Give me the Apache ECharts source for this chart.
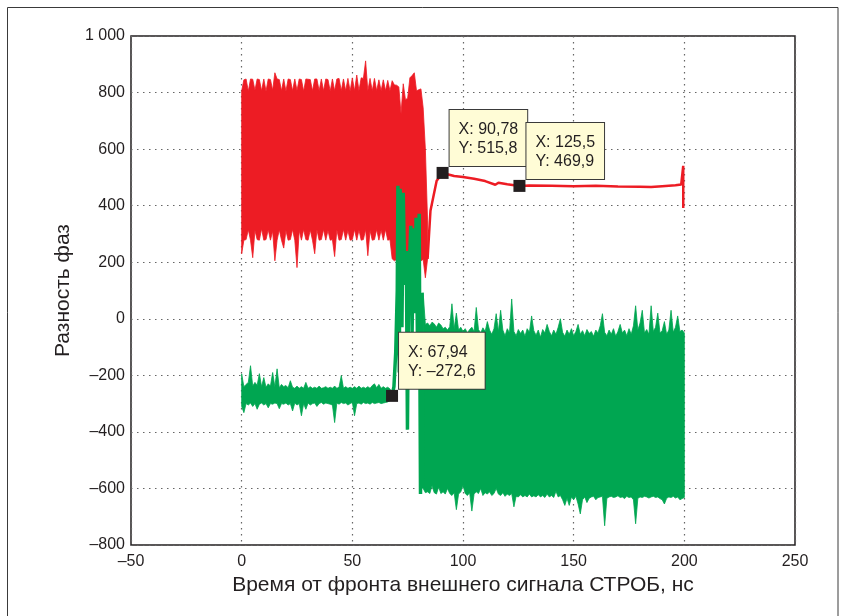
<!DOCTYPE html>
<html>
<head>
<meta charset="utf-8">
<script src="https://cdn.jsdelivr.net/npm/echarts@6/dist/echarts.min.js"></script>
<style>
html,body{margin:0;padding:0;background:#fff;}
#c{width:845px;height:616px;}
</style>
</head>
<body>
<div id="c"></div>
<script>
// ---- axis ticks ----
const xTicks = [-50, 0, 50, 100, 150, 200, 250];
const yTicks = [-800, -600, -400, -200, 0, 200, 400, 600, 800, 1000];

// ---- red trace: dense burst (sampled every 1 ns from 0 ns), upper / lower envelope ----
const redBurstStart = 0;
const redBurstStep = 1;
const redBurstHigh = [
  806,845,848,805,848,847,808,848,846,806,
  848,805,848,846,808,870,848,846,806,848,
  805,848,846,806,848,807,848,846,805,848,
  847,846,806,848,848,806,848,806,848,846,
  805,848,806,848,850,806,848,806,850,805,
  852,806,862,806,852,850,912,806,850,806,
  850,806,845,806,845,806,843,806,842,827,
  826,820,725,831,775,780,852,860,870,806,
  810,813,746,600,346
];
const redBurstLow = [
  230,278,280,315,278,216,312,280,278,318,
  278,280,315,278,310,205,278,315,278,250,
  312,278,280,316,278,181,312,278,316,280,
  278,314,278,230,315,278,280,316,278,312,
  278,280,220,315,278,280,316,278,312,278,
  280,316,278,314,278,280,316,223,312,278,
  280,316,278,314,278,316,278,280,212,205,
  210,205,208,205,210,205,208,205,210,205,
  207,205,210,145,212
];
// ---- red trace: settled tail ----
const redTailX = [84, 85.3, 88.1, 90.78, 92.5, 96, 100, 105, 110, 114.6, 116, 120, 125.5, 130, 140, 150, 160, 170, 180, 185, 190, 196, 198.6, 199.5, 199.5];
const redTailY = [212, 382, 488, 515.8, 512, 505, 501, 495, 487, 474, 481, 476, 469.9, 471, 470, 469, 470, 468, 467, 466, 469, 472, 475, 541, 392];

// ---- green trace: noisy start (every 1 ns from 0 ns) ----
const greenNoiseStart = 0;
const greenNoiseStep = 1;
const greenNoiseHigh = [
  -195,-240,-232,-225,-166,-238,-225,-235,-194,-240,
  -208,-242,-230,-238,-190,-240,-177,-244,-232,-240,
  -236,-244,-219,-242,-246,-238,-246,-240,-246,-225,
  -246,-240,-246,-242,-246,-238,-246,-244,-240,-246,
  -242,-246,-238,-246,-242,-201,-246,-240,-246,-242,
  -246,-240,-246,-238,-246,-242,-246,-240,-246,-236,
  -230,-244,-232,-246,-240,-246,-242,-248,-265
];
const greenNoiseLow = [
  -310,-332,-300,-305,-298,-310,-300,-320,-302,-298,
  -305,-300,-315,-300,-302,-298,-300,-318,-300,-302,
  -298,-305,-300,-326,-298,-305,-300,-343,-300,-320,
  -298,-305,-300,-298,-310,-300,-296,-302,-298,-300,
  -302,-305,-367,-298,-302,-296,-300,-298,-305,-300,
  -296,-343,-300,-298,-302,-296,-300,-298,-302,-296,
  -300,-298,-296,-300,-298,-296,-294,-290,-280
];
// ---- green trace: jump ----
const greenJumpX = [67.94, 68.8, 69.6, 70.3, 70.6, 71.2, 71.6, 72.4, 73.0, 73.7, 74.4, 74.9, 75.4, 76.4, 77.0, 77.6, 78.2, 78.8, 79.4, 80.2, 80.8, 81.4, 82.0];
const greenJumpY = [-272.6, -240, -120, 100, 470, -190, 460, -30, 446, 120, 240, -392, 100, 329, -50, 320, 20, 357, -60, 371, -620, 92, -600];
// ---- green trace: dense burst (every 1 ns from 82 ns) ----
const greenBurstStart = 82;
const greenBurstStep = 1;
const greenBurstHigh = [
  92,-20,-15,-25,-12,-18,-30,-15,-22,-35,
  -30,-40,-28,53,-35,20,-40,-30,-45,-35,
  -50,-38,-30,-45,40,-38,-50,-32,-45,-10,
  -40,-55,-35,18,-45,30,-40,-60,-35,-50,
  70,-45,-60,-38,-52,-40,-62,-35,-48,10,
  -42,-58,-40,-65,-38,-50,-20,-45,-60,-40,
  -55,-30,0,-48,-62,-40,-55,-35,-60,-45,
  -20,-55,-42,-60,-38,-52,-45,-62,-40,-50,
  -25,18,-48,-60,-40,-55,-35,-62,-45,-20,
  -50,-40,-60,-35,-55,-25,46,-40,-15,30,
  -50,-38,-55,46,-45,-30,20,-50,-42,-10,
  -55,-40,30,-48,-30,10,-45,-40,-50
];
const greenBurstLow = [
  -600,-615,-612,-618,-590,-615,-620,-595,-618,-612,
  -620,-600,-618,-625,-615,-675,-620,-612,-590,-618,
  -625,-615,-680,-620,-612,-618,-600,-625,-615,-620,
  -612,-625,-618,-600,-620,-625,-615,-628,-620,-625,
  -618,-665,-628,-630,-622,-630,-625,-630,-620,-630,
  -626,-630,-622,-630,-625,-632,-620,-630,-625,-632,
  -610,-630,-625,-640,-660,-635,-660,-630,-640,-628,
  -655,-690,-640,-630,-650,-635,-630,-628,-640,-632,
  -630,-628,-732,-635,-630,-628,-632,-630,-626,-632,
  -630,-636,-628,-632,-630,-640,-725,-635,-630,-632,
  -628,-630,-634,-630,-628,-632,-630,-636,-640,-655,
  -635,-630,-632,-628,-634,-630,-640,-636,-632
];

// ---- data tips ----
const tipX = [90.78, 125.5, 67.94];
const tipY = [515.8, 469.9, -272.6];

// ---- labels ----
const xTitle = 'Время от фронта внешнего сигнала СТРОБ, нс';
const yTitle = 'Разность фаз';

const RED = '#ed1c24';
const GREEN = '#00a651';
const INK = '#231f20';
const FONT = '"Liberation Sans", Arial, Helvetica, sans-serif';

function fmtNum(v) {
  const neg = v < 0;
  let s = String(Math.abs(v)).replace('.', ',');
  const parts = s.split(',');
  if (parts[0].length > 3) parts[0] = parts[0].slice(0, parts[0].length - 3) + ' ' + parts[0].slice(-3);
  s = parts.join(',');
  return (neg ? '–' : '') + s;
}

// filled envelope between low and high, drawn through the cartesian scales
function bandSeries(name, start, step, low, high, color, z) {
  const xs = low.map((v, i) => start + i * step);
  return {
    name: name, type: 'custom', coordinateSystem: 'cartesian2d', z: z, silent: true,
    clip: true,
    data: [[xs[0], low[0]]],
    renderItem: function (params, api) {
      const pts = [];
      for (let i = 0; i < xs.length; i++) pts.push(api.coord([xs[i], high[i]]));
      for (let i = xs.length - 1; i >= 0; i--) pts.push(api.coord([xs[i], low[i]]));
      return {
        type: 'polygon',
        shape: { points: pts },
        style: { fill: color, stroke: color, lineWidth: 0.8, lineJoin: 'miter' }
      };
    }
  };
}

const series = [
  bandSeries('redBurst', redBurstStart, redBurstStep, redBurstLow, redBurstHigh, RED, 2),
  {
    name: 'redTail', type: 'line', symbol: 'none', z: 2, silent: true,
    data: redTailX.map((x, i) => [x, redTailY[i]]),
    lineStyle: { color: RED, width: 2.5 }
  },
  bandSeries('greenNoise', greenNoiseStart, greenNoiseStep, greenNoiseLow, greenNoiseHigh, GREEN, 3),
  {
    name: 'greenJump', type: 'line', symbol: 'none', z: 3, silent: true,
    data: greenJumpX.map((x, i) => [x, greenJumpY[i]]),
    lineStyle: { color: GREEN, width: 3.5 }
  },
  bandSeries('greenBurst', greenBurstStart, greenBurstStep, greenBurstLow, greenBurstHigh, GREEN, 3),
  {
    name: 'tips', type: 'scatter', z: 10, silent: true,
    symbol: 'rect', symbolSize: 12,
    itemStyle: { color: INK, opacity: 1 },
    data: tipX.map((x, i) => [x, tipY[i]]),
    label: {
      show: true,
      position: [13, -57],
      formatter: p => 'X: ' + fmtNum(p.value[0]) + '\nY: ' + fmtNum(p.value[1]),
      fontFamily: FONT, fontSize: 16, lineHeight: 19, color: INK,
      backgroundColor: '#fffcd6', borderColor: '#3a3a3a', borderWidth: 1,
      padding: [10, 9, 8, 9]
    }
  }
];

const chart = echarts.init(document.getElementById('c'), null, { renderer: 'canvas' });
chart.setOption({
  animation: false,
  backgroundColor: '#ffffff',
  textStyle: { fontFamily: FONT },
  grid: { left: 131, top: 36, width: 664, height: 509, show: true, borderColor: INK, borderWidth: 1.5, backgroundColor: 'transparent' },
  xAxis: {
    type: 'value', min: xTicks[0], max: xTicks[xTicks.length - 1], interval: 50,
    axisLine: { show: false }, axisTick: { show: false },
    axisLabel: { color: INK, fontSize: 16, margin: 9, formatter: v => fmtNum(v) },
    splitLine: { show: true, lineStyle: { color: '#666', width: 1.2, type: [1.5, 4.5] } },
    name: xTitle, nameLocation: 'middle', nameGap: 29,
    nameTextStyle: { color: INK, fontSize: 21, verticalAlign: 'top' }
  },
  yAxis: {
    type: 'value', min: yTicks[0], max: yTicks[yTicks.length - 1], interval: 200,
    axisLine: { show: false }, axisTick: { show: false },
    axisLabel: { color: INK, fontSize: 16, margin: 6, formatter: v => fmtNum(v) },
    splitLine: { show: true, lineStyle: { color: '#666', width: 1.2, type: [1.5, 4.5] } },
    name: yTitle, nameLocation: 'middle', nameGap: 55, nameRotate: 90,
    nameTextStyle: { color: INK, fontSize: 21 }
  },
  graphic: [{
    type: 'rect', silent: true, z: 100,
    shape: { x: 7.5, y: 7.5, width: 830.5, height: 620 },
    style: { fill: null, stroke: '#3a3a3a', lineWidth: 1 }
  }],
  series: series
});
</script>
</body>
</html>
